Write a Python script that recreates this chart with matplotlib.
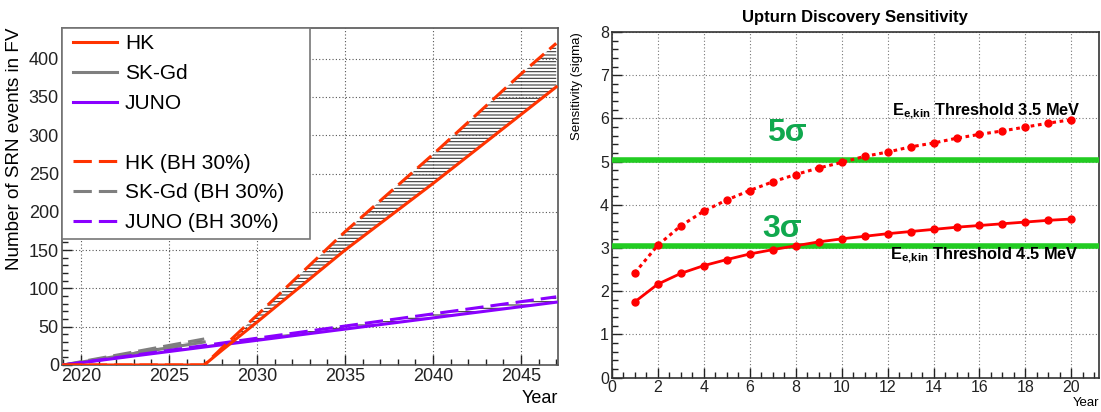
import matplotlib
matplotlib.use('Agg')
import matplotlib.pyplot as plt
from matplotlib.lines import Line2D
from matplotlib.patches import Rectangle
from matplotlib.ticker import MultipleLocator

plt.rcParams['font.family'] = ['Liberation Sans', 'DejaVu Sans']
plt.rcParams['mathtext.fontset'] = 'custom'
plt.rcParams['mathtext.rm'] = 'Liberation Sans'
plt.rcParams['mathtext.bf'] = 'Liberation Sans:bold'
plt.rcParams['mathtext.it'] = 'Liberation Sans:italic'
plt.rcParams['hatch.linewidth'] = 0.8

# ---------------- data ----------------
hk_years = [2019, 2027, 2028, 2030, 2035, 2040, 2045, 2047]
hk_events = [0, 0, 19, 56, 150, 237, 327, 363]
hk_events_bh = [0, 0, 22, 65, 174, 275, 380, 420]
skgd_years = [2019, 2027]
skgd_events = [0, 30]
skgd_events_bh = [0, 34]
juno_years = [2019, 2047]
juno_events = [0, 82]
juno_events_bh = [0, 89]

sens_years = list(range(1, 21))
sens_35 = [2.42, 3.06, 3.51, 3.85, 4.11, 4.33, 4.53, 4.70, 4.85, 4.98,
           5.12, 5.22, 5.34, 5.43, 5.54, 5.63, 5.71, 5.80, 5.89, 5.97]
sens_45 = [1.75, 2.16, 2.41, 2.59, 2.73, 2.86, 2.96, 3.05, 3.14, 3.21,
           3.27, 3.33, 3.38, 3.43, 3.48, 3.52, 3.56, 3.60, 3.64, 3.67]
sigma_levels = [5.03, 3.05]
sigma_labels = ['5σ', '3σ']

HK_C = '#FF3300'
SK_C = '#7F7F7F'
JU_C = '#8A00FF'

fig = plt.figure(figsize=(11.01, 4.12), dpi=100)

# ---------------- left panel ----------------
axL = fig.add_axes([0.0560, 0.1141, 0.4508, 0.818])
lw = 2.2
dash = (6, 2.3)

for yrs, lo, hi in [(hk_years, hk_events, hk_events_bh),
                    (skgd_years, skgd_events, skgd_events_bh),
                    (juno_years, juno_events, juno_events_bh)]:
    axL.fill_between(yrs, lo, hi, facecolor='none', edgecolor='#3a3a3a',
                     hatch='-----', linewidth=0, zorder=2)

axL.plot(skgd_years, skgd_events, color=SK_C, lw=lw, zorder=3)
axL.plot(skgd_years, skgd_events_bh, color=SK_C, lw=lw, dashes=dash, zorder=3)
axL.plot(juno_years, juno_events, color=JU_C, lw=lw, zorder=4)
axL.plot(juno_years, juno_events_bh, color=JU_C, lw=lw, dashes=dash, zorder=4)
axL.plot(hk_years, hk_events, color=HK_C, lw=lw, zorder=5)
axL.plot(hk_years, hk_events_bh, color=HK_C, lw=lw, dashes=dash, zorder=5)

axL.set_xlim(2018.9, 2047.1)
axL.set_ylim(0, 440)
axL.xaxis.set_major_locator(MultipleLocator(5))
axL.xaxis.set_minor_locator(MultipleLocator(1))
axL.yaxis.set_major_locator(MultipleLocator(50))
axL.yaxis.set_minor_locator(MultipleLocator(10))
axL.grid(True, which='major', linestyle=(0, (1, 2)), color='#555555', lw=0.8)
axL.tick_params(which='both', direction='in', top=False, right=False,
                labelsize=13, colors='#222222', pad=2)
axL.tick_params(which='major', length=7, width=1)
axL.tick_params(which='minor', length=4, width=1)
for s in axL.spines.values():
    s.set_color('#555555')
    s.set_linewidth(1.2)
axL.set_ylabel('Number of SRN events in FV', loc='top', fontsize=13.6)
axL.yaxis.set_label_coords(-0.078, 1.0)
axL.set_xlabel('Year', loc='right', fontsize=13)
axL.xaxis.set_label_coords(1.0, -0.075)

# legend box
axL.add_patch(Rectangle((0, 0.375), 0.5, 0.625, transform=axL.transAxes,
                        facecolor='white', edgecolor='#777777', lw=1.2,
                        zorder=10, clip_on=False))
handles = [
    Line2D([], [], color=HK_C, lw=lw),
    Line2D([], [], color=SK_C, lw=lw),
    Line2D([], [], color=JU_C, lw=lw),
    Line2D([], [], color='none'),
    Line2D([], [], color=HK_C, lw=lw, dashes=dash),
    Line2D([], [], color=SK_C, lw=lw, dashes=dash),
    Line2D([], [], color=JU_C, lw=lw, dashes=dash),
]
labels = ['HK', 'SK-Gd', 'JUNO', '', 'HK (BH 30%)', 'SK-Gd (BH 30%)', 'JUNO (BH 30%)']
leg = axL.legend(handles, labels, loc='upper left', bbox_to_anchor=(0.01, 1.0),
                 frameon=False, fontsize=15, handlelength=2.1,
                 handletextpad=0.4, labelspacing=0.52, borderpad=0.1,
                 borderaxespad=0.2)
leg.set_zorder(11)

# ---------------- right panel ----------------
axR = fig.add_axes([0.5556, 0.0837, 0.4426, 0.8386])
axR.plot(sens_years, sens_35, color='#FF0000', lw=2.2, linestyle=(0, (1.2, 1.2)),
         marker='o', markersize=5, zorder=4)
axR.plot(sens_years, sens_45, color='#FF0000', lw=2.0, linestyle='-',
         marker='o', markersize=5, zorder=4)
for lvl in sigma_levels:
    axR.axhline(lvl, color='#22CC22', lw=4, zorder=3)
axR.text(7.6, 5.66, sigma_labels[0], color='#10A84E', fontsize=23,
         fontweight='bold', ha='center', va='center', zorder=5)
axR.text(7.4, 3.45, sigma_labels[1], color='#10A84E', fontsize=23,
         fontweight='bold', ha='center', va='center', zorder=5)
axR.text(12.2, 6.17, r'$\mathbf{E_{e{,}kin}}$ Threshold 3.5 MeV', fontsize=11.8,
         fontweight='bold', ha='left', va='center', zorder=5)
axR.text(12.1, 2.83, r'$\mathbf{E_{e{,}kin}}$ Threshold 4.5 MeV', fontsize=11.8,
         fontweight='bold', ha='left', va='center', zorder=5)

axR.set_xlim(0, 21.2)
axR.set_ylim(0, 8)
axR.xaxis.set_major_locator(MultipleLocator(2))
axR.xaxis.set_minor_locator(MultipleLocator(0.5))
axR.yaxis.set_major_locator(MultipleLocator(1))
axR.yaxis.set_minor_locator(MultipleLocator(0.2))
axR.grid(True, which='major', linestyle=(0, (1, 2)), color='#777777', lw=0.8)
axR.tick_params(which='both', direction='in', top=False, right=False,
                labelsize=11.5, colors='#222222', pad=2)
axR.tick_params(which='major', length=7, width=1)
axR.tick_params(which='minor', length=4, width=1)
for s in axR.spines.values():
    s.set_color('#333333')
    s.set_linewidth(1.2)
axR.set_title('Upturn Discovery Sensitivity', fontsize=12, fontweight='bold', pad=7)
axR.set_ylabel('Sensitivity (sigma)', loc='top', fontsize=9.5)
axR.yaxis.set_label_coords(-0.058, 1.0)
axR.set_xlabel('Year', loc='right', fontsize=9.5)
axR.xaxis.set_label_coords(1.0, -0.055)

fig.savefig('out.png', dpi=100)
